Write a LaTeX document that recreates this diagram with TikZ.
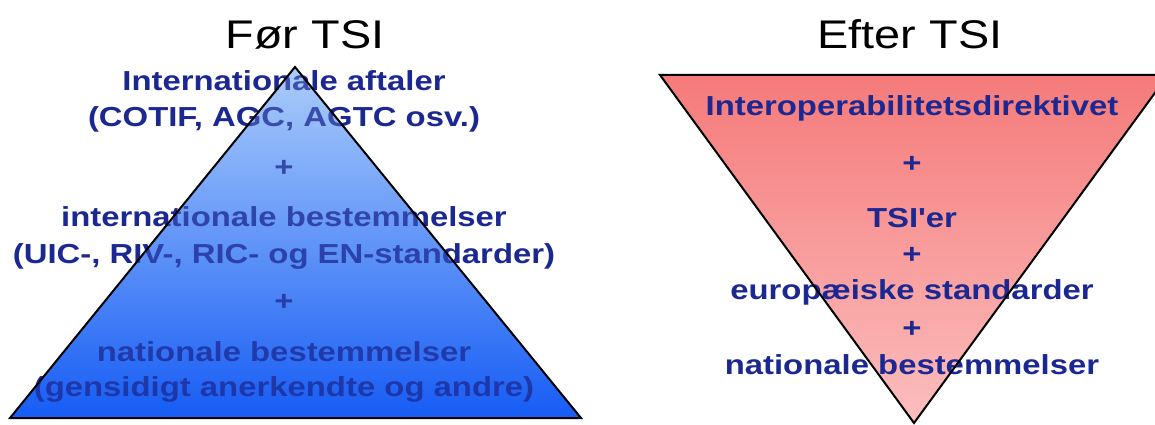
\documentclass[tikz,border=0pt]{standalone}
\usepackage{fontspec}
\setmainfont{Liberation Sans}
\definecolor{navytext}{RGB}{28,40,145}
\definecolor{pyrtop}{RGB}{172,205,250}
\definecolor{pyrmid}{RGB}{95,150,245}
\definecolor{pyrbot}{RGB}{22,92,245}
\definecolor{invtop}{RGB}{245,122,122}
\definecolor{invmid}{RGB}{248,150,150}
\definecolor{invbot}{RGB}{252,190,190}
% straight apostrophe, set as a glyph so no input mapping curls it
\newcommand{\straightquote}{\XeTeXglyph\XeTeXcharglyph"0027\relax}
\begin{document}
\begin{tikzpicture}[x=1pt,y=-1pt,
  heading/.style={font=\fontsize{40}{48}\selectfont, xscale=1.17, inner sep=0pt, anchor=base},
  txt/.style={font=\bfseries\fontsize{27.5}{33}\selectfont, text=navytext, xscale=1.195, inner sep=0pt, anchor=base},
  outline/.style={draw=black, line width=2pt, line join=miter}]
\useasboundingbox (0,0) rectangle (1155,425);
\clip (0,0) rectangle (1155,425);
\fill[white] (0,0) rectangle (1155,425);

% corner points of the two triangles
\coordinate (La) at (295,67);
\coordinate (Ll) at (10,418);
\coordinate (Lr) at (581,418);
\coordinate (Rl) at (660,75);
\coordinate (Rr) at (1168,75);
\coordinate (Ra) at (914,423);

% headings
\node[heading] (h1) at (305,49) {Før TSI};
\node[heading] (h2) at (910,49) {Efter TSI};

% pyramid: fill, text, outline
\shade[top color=pyrtop, middle color=pyrmid, bottom color=pyrbot] (La) -- (Lr) -- (Ll) -- cycle;
\node[txt] (l1) at (284,91)  {Internationale aftaler};
\node[txt] (l2) at (284,126) {(COTIF, AGC, AGTC osv.)};
\node[txt] (l3) at (284,176) {+};
\node[txt] (l4) at (284,226) {internationale bestemmelser};
\node[txt] (l5) at (284,263) {(UIC-, RIV-, RIC- og EN-standarder)};
\node[txt] (l6) at (284,310) {+};
\node[txt] (l7) at (284,361) {nationale bestemmelser};
\node[txt] (l8) at (284,396) {(gensidigt anerkendte og andre)};
\shade[top color=pyrtop, middle color=pyrmid, bottom color=pyrbot, fill opacity=0.25] (La) -- (Lr) -- (Ll) -- cycle;
\draw[outline] (La) -- (Lr) -- (Ll) -- cycle;

% inverted pyramid: fill, text, outline
\shade[top color=invtop, middle color=invmid, bottom color=invbot] (Rl) -- (Rr) -- (Ra) -- cycle;
\node[txt] (r1) at (912,116) {Interoperabilitetsdirektivet};
\node[txt] (r2) at (912,172) {+};
\node[txt] (r3) at (912,227) {TSI\straightquote er};
\node[txt] (r4) at (912,263) {+};
\node[txt] (r5) at (912,299) {europæiske standarder};
\node[txt] (r6) at (912,337) {+};
\node[txt] (r7) at (912,374) {nationale bestemmelser};
\draw[outline] (Rl) -- (Rr) -- (Ra) -- cycle;
\end{tikzpicture}
\end{document}
